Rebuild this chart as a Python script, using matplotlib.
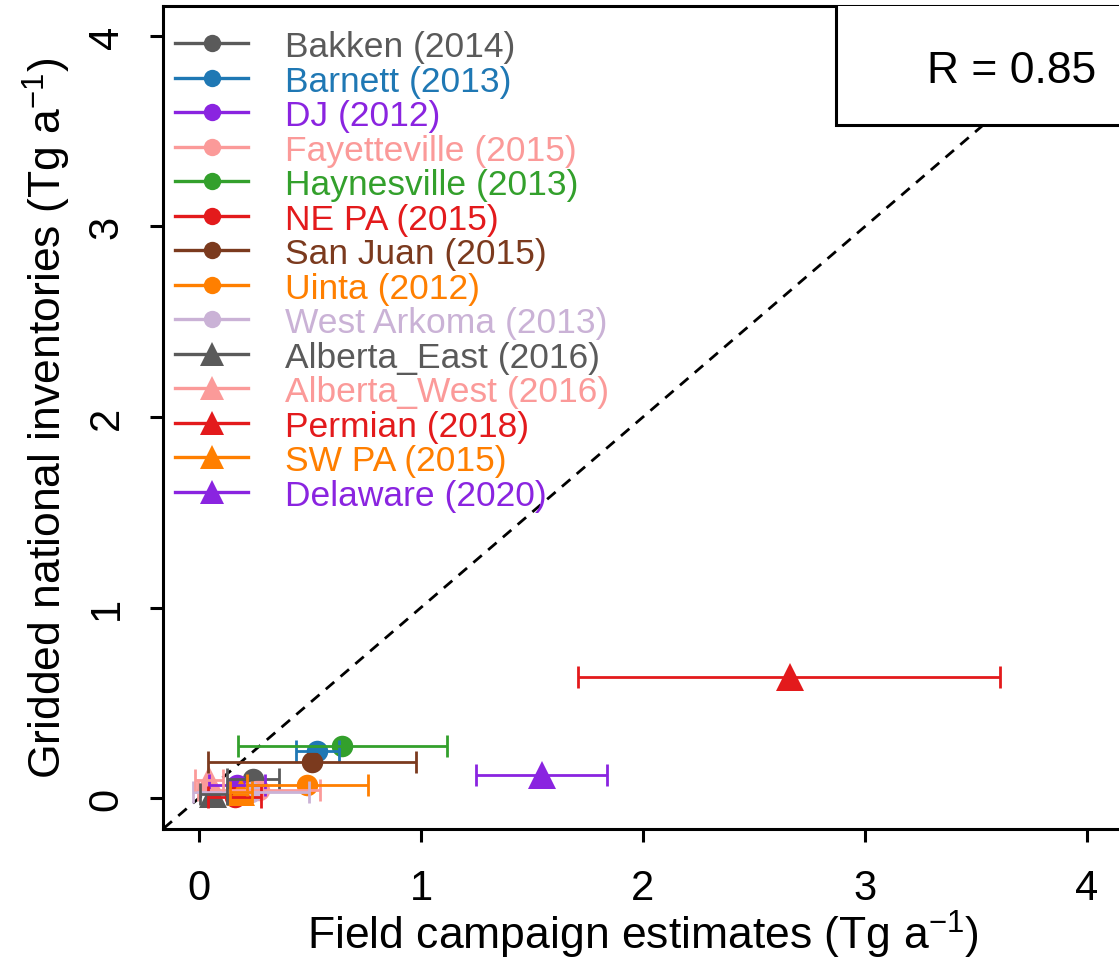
import matplotlib
matplotlib.use("Agg")
import matplotlib.pyplot as plt
from matplotlib.lines import Line2D
from matplotlib.patches import Rectangle

plt.rcParams['font.family'] = ['Liberation Sans', 'DejaVu Sans']
plt.rcParams['mathtext.default'] = 'regular'

# ---- data ----
names = ["Bakken (2014)", "Barnett (2013)", "DJ (2012)", "Fayetteville (2015)",
         "Haynesville (2013)", "NE PA (2015)", "San Juan (2015)", "Uinta (2012)",
         "West Arkoma (2013)", "Alberta_East (2016)", "Alberta_West (2016)",
         "Permian (2018)", "SW PA (2015)", "Delaware (2020)"]
colors = ["#5a5a5a", "#1f78b4", "#8a24e0", "#fb9a99",
          "#33a02c", "#e31a1c", "#7b3a1e", "#ff7f00",
          "#cab2d6", "#5a5a5a", "#fb9a99",
          "#e31a1c", "#ff7f00", "#8a24e0"]
markers = ["o"] * 9 + ["^"] * 5
field_est = [0.245, 0.533, 0.170, 0.270, 0.645, 0.160, 0.508, 0.487, 0.235,
             0.065, 0.046, 2.660, 0.190, 1.545]
field_lo = [0.128, 0.438, 0.046, -0.006, 0.177, 0.042, 0.039, 0.214, -0.026,
            0.005, -0.018, 1.709, 0.140, 1.247]
field_hi = [0.360, 0.629, 0.296, 0.545, 1.115, 0.280, 0.978, 0.760, 0.497,
            0.125, 0.110, 3.610, 0.240, 1.840]
inventory = [0.100, 0.248, 0.070, 0.040, 0.275, 0.005, 0.190, 0.070, 0.030,
             0.020, 0.097, 0.635, 0.030, 0.120]
r_value = 0.85

W, H = 1119, 962
fig = plt.figure(figsize=(W / 100, H / 100), dpi=100)
ax = fig.add_axes([163.5 / W, (H - 829.5) / H, 959 / W, 823 / H])
ax.set_xlim(-0.16, 4.16)
ax.set_ylim(-0.16, 4.16)

# 1:1 line
ax.plot([-0.16, 4.16], [-0.16, 4.16], color="black", lw=2.0,
        linestyle=(0, (4, 3)), zorder=1)

# points first
for i in range(len(names)):
    ms = 15.5 if markers[i] == "o" else 20
    ax.plot(field_est[i], inventory[i], marker=markers[i], color=colors[i],
            markersize=ms, linestyle="none", markeredgewidth=0, zorder=2 + 0.01 * i)
# then error bars
for i in range(len(names)):
    ax.errorbar(field_est[i], inventory[i],
                xerr=[[field_est[i] - field_lo[i]], [field_hi[i] - field_est[i]]],
                fmt="none", ecolor=colors[i], elinewidth=2.0, capsize=8,
                capthick=2.0, zorder=3 + 0.01 * i)

# spines / ticks
for s in ["left", "bottom", "top", "right"]:
    ax.spines[s].set_linewidth(2.2)
ax.set_xticks([0, 1, 2, 3, 4])
ax.set_yticks([0, 1, 2, 3, 4])
ax.tick_params(axis="both", direction="out", length=9.5, width=2.2,
               labelsize=30)
ax.tick_params(axis="x", pad=19)
ax.tick_params(axis="y", pad=17)
for lab in ax.get_yticklabels():
    lab.set_rotation(90)
    lab.set_va("center")

ax.set_xlabel("Field campaign estimates (Tg a$^{-1}$)", fontsize=32, labelpad=0)
ax.set_ylabel("Gridded national inventories (Tg a$^{-1}$)", fontsize=32, labelpad=10)

# legend drawn in pixel coordinates
for i in range(len(names)):
    yp = 44.3 + 34.5 * i
    ms = 12.5 if markers[i] == "o" else 17
    ln = Line2D([175, 248], [H - yp, H - yp], color=colors[i], lw=2.4,
                transform=None, zorder=20)
    fig.add_artist(ln)
    mk = Line2D([212], [H - yp], color=colors[i], marker=markers[i],
                markersize=ms, markeredgewidth=0, linestyle="none",
                transform=None, zorder=21)
    fig.add_artist(mk)
    fig.text(285 / W, (H - yp) / H, names[i], color=colors[i], fontsize=25.5,
             va="center_baseline", ha="left")

# R box
rect = Rectangle((2.87, 3.535), 2.0, 2.0, facecolor="white", edgecolor="black",
                 lw=2.2, zorder=30, clip_on=True)
ax.add_patch(rect)
ax.text(3.66, 3.845, f"R = {r_value:.2f}", fontsize=32, ha="center",
        va="center_baseline", zorder=31)

fig.savefig("out.png", dpi=100)
